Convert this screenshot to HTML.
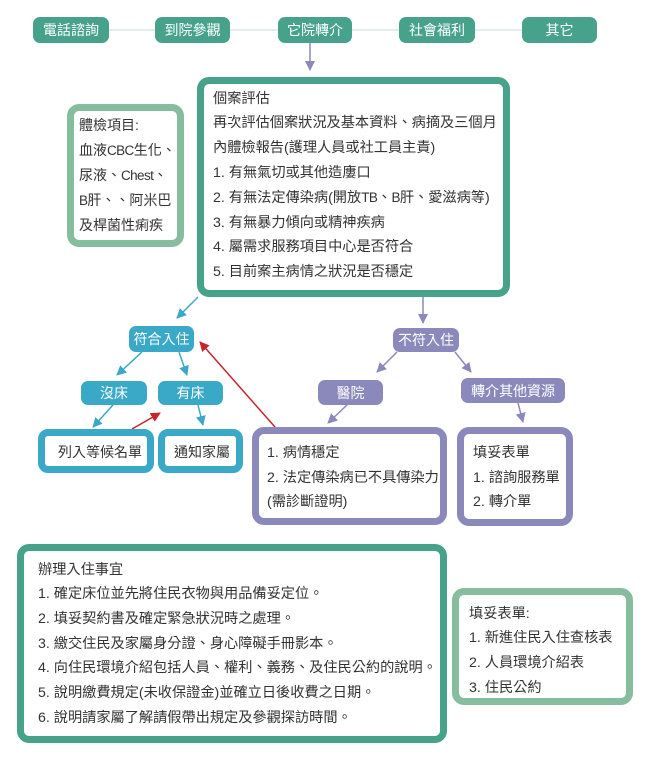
<!DOCTYPE html>
<html><head><meta charset="utf-8">
<style>
*{margin:0;padding:0;box-sizing:border-box}
html,body{width:650px;height:767px;background:#fff;overflow:hidden}
body{position:relative;font-family:"Liberation Sans","Noto Sans CJK TC",sans-serif;color:#333}
.pill{position:absolute;color:#fff;font-size:14px;display:flex;align-items:center;justify-content:center;border-radius:7px;white-space:nowrap}
.t{background:#47a28c}
.b{background:#3aa9c8}
.p{background:#8b89bb}
.box{position:absolute;border-style:solid;border-width:7px;border-radius:12px;background:#fff}
.txt{position:absolute;font-size:14.2px;white-space:nowrap}
.n{font-size:13.5px;letter-spacing:-0.6px}
svg{position:absolute;left:0;top:0}
</style></head><body>
<svg width="650" height="767">
<defs>
<marker id="mp" markerWidth="10" markerHeight="10" refX="9" refY="5" orient="auto" markerUnits="userSpaceOnUse"><path d="M0,0 L10,5 L0,10 z" fill="#8b89bb"/></marker>
<marker id="mb" markerWidth="10" markerHeight="10" refX="9" refY="5" orient="auto" markerUnits="userSpaceOnUse"><path d="M0,0 L10,5 L0,10 z" fill="#3aa9c8"/></marker>
<marker id="mr" markerWidth="10" markerHeight="10" refX="9" refY="5" orient="auto" markerUnits="userSpaceOnUse"><path d="M0,0 L10,5 L0,10 z" fill="#c8242b"/></marker>
</defs>
<line x1="100" y1="30" x2="530" y2="30" stroke="#e2eeeb" stroke-width="2"/>
<line x1="310" y1="43" x2="310" y2="70" stroke="#8b89bb" stroke-width="1.5" marker-end="url(#mp)"/>
<line x1="198" y1="297" x2="177" y2="318" stroke="#3aa9c8" stroke-width="1.5" marker-end="url(#mb)"/>
<line x1="142" y1="352" x2="117" y2="375" stroke="#3aa9c8" stroke-width="1.5" marker-end="url(#mb)"/>
<line x1="179" y1="352" x2="187" y2="375" stroke="#3aa9c8" stroke-width="1.5" marker-end="url(#mb)"/>
<line x1="113" y1="405" x2="93" y2="427" stroke="#3aa9c8" stroke-width="1.5" marker-end="url(#mb)"/>
<line x1="198" y1="405" x2="203" y2="425" stroke="#3aa9c8" stroke-width="1.5" marker-end="url(#mb)"/>
<line x1="132" y1="429" x2="160" y2="413" stroke="#c8242b" stroke-width="1.5" marker-end="url(#mr)"/>
<line x1="275" y1="427" x2="200" y2="342" stroke="#c8242b" stroke-width="1.5" marker-end="url(#mr)"/>
<line x1="423" y1="297" x2="423" y2="323" stroke="#8b89bb" stroke-width="1.5" marker-end="url(#mp)"/>
<line x1="397" y1="352" x2="377" y2="372" stroke="#8b89bb" stroke-width="1.5" marker-end="url(#mp)"/>
<line x1="455" y1="352" x2="471" y2="372" stroke="#8b89bb" stroke-width="1.5" marker-end="url(#mp)"/>
<line x1="347" y1="405" x2="328" y2="423" stroke="#8b89bb" stroke-width="1.5" marker-end="url(#mp)"/>
<line x1="518" y1="403" x2="523" y2="422" stroke="#8b89bb" stroke-width="1.5" marker-end="url(#mp)"/>
</svg>

<div class="pill t" style="left:33px;top:17px;width:76px;height:26px">電話諮詢</div>
<div class="pill t" style="left:155px;top:17px;width:75px;height:26px">到院參觀</div>
<div class="pill t" style="left:278px;top:17px;width:74px;height:26px">它院轉介</div>
<div class="pill t" style="left:399px;top:17px;width:76px;height:26px">社會福利</div>
<div class="pill t" style="left:522px;top:17px;width:75px;height:26px">其它</div>

<div class="box" style="left:197px;top:77px;width:313px;height:220px;border-color:#47a28c"></div>
<div class="txt" style="left:213px;top:86.6px;line-height:24.8px">個案評估<br>再次評估個案狀況及基本資料、病摘及三個月<br>內體檢報告(護理人員或社工員主責)<br>1. 有無氣切或其他造廔口<br>2. 有無法定傳染病(開放<span class="n">TB</span>、<span class="n">B</span>肝、愛滋病等)<br>3. 有無暴力傾向或精神疾病<br>4. 屬需求服務項目中心是否符合<br>5. 目前案主病情之狀況是否穩定</div>

<div class="box" style="left:67px;top:104px;width:117px;height:143px;border-color:#87bd9f"></div>
<div class="txt" style="left:79px;top:112.5px;line-height:25px;font-size:14px">體檢項目:<br>血液<span class="n">CBC</span>生化、<br>尿液、<span class="n">Chest</span>、<br><span class="n">B</span>肝、、阿米巴<br>及桿菌性痢疾</div>

<div class="pill b" style="left:129px;top:326px;width:65px;height:26px">符合入住</div>
<div class="pill b" style="left:81px;top:381px;width:66px;height:24px">沒床</div>
<div class="pill b" style="left:158px;top:381px;width:65px;height:24px">有床</div>

<div class="box" style="left:38px;top:429px;width:116px;height:44px;border-color:#3aa9c8;border-radius:10px"></div>
<div class="txt" style="left:58px;top:441px;line-height:22px;font-size:14px">列入等候名單</div>
<div class="box" style="left:158px;top:429px;width:85px;height:44px;border-color:#3aa9c8;border-radius:10px"></div>
<div class="txt" style="left:174px;top:441px;line-height:22px;font-size:14px">通知家屬</div>

<div class="pill p" style="left:393px;top:328px;width:66px;height:24px">不符入住</div>
<div class="pill p" style="left:318px;top:380px;width:65px;height:25px">醫院</div>
<div class="pill p" style="left:461px;top:378px;width:104px;height:25px">轉介其他資源</div>

<div class="box" style="left:252px;top:427px;width:195px;height:98px;border-color:#8b89bb"></div>
<div class="txt" style="left:267px;top:441px;line-height:24.5px">1. 病情穩定<br>2. 法定傳染病已不具傳染力<br>(需診斷證明)</div>
<div class="box" style="left:457px;top:427px;width:116px;height:99px;border-color:#8b89bb"></div>
<div class="txt" style="left:473px;top:441px;line-height:24.5px">填妥表單<br>1. 諮詢服務單<br>2. 轉介單</div>

<div class="box" style="left:17px;top:544px;width:430px;height:199px;border-color:#47a28c"></div>
<div class="txt" style="left:38px;top:557.6px;line-height:24.7px">辦理入住事宜<br>1. 確定床位並先將住民衣物與用品備妥定位。<br>2. 填妥契約書及確定緊急狀況時之處理。<br>3. 繳交住民及家屬身分證、身心障礙手冊影本。<br>4. 向住民環境介紹包括人員、權利、義務、及住民公約的說明。<br>5. 說明繳費規定(未收保證金)並確立日後收費之日期。<br>6. 說明請家屬了解請假帶出規定及參觀探訪時間。</div>

<div class="box" style="left:452px;top:588px;width:181px;height:117px;border-color:#87bd9f"></div>
<div class="txt" style="left:469px;top:601.5px;line-height:24.7px">填妥表單:<br>1. 新進住民入住查核表<br>2. 人員環境介紹表<br>3. 住民公約</div>
</body></html>
